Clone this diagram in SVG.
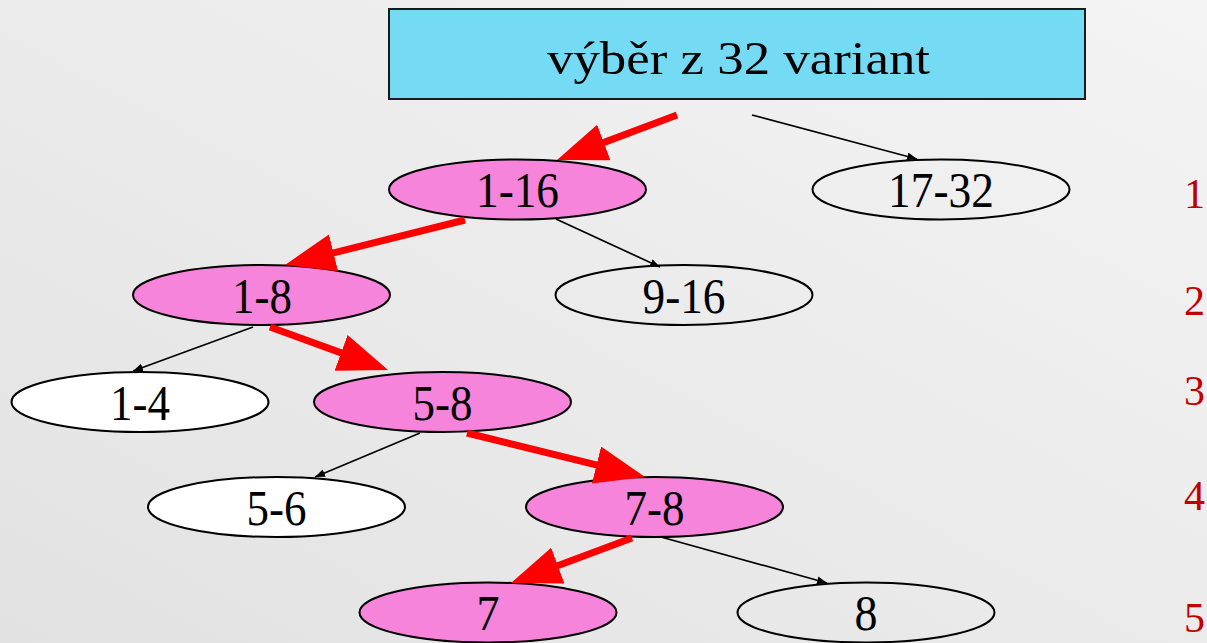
<svg xmlns="http://www.w3.org/2000/svg" width="1207" height="643" viewBox="0 0 1207 643">
<defs>
<linearGradient id="bg" x1="1" y1="0" x2="0" y2="1">
<stop offset="0" stop-color="#f4f4f4"/>
<stop offset="1" stop-color="#e2e2e2"/>
</linearGradient>
<marker id="ah" markerUnits="userSpaceOnUse" markerWidth="12" markerHeight="10" refX="10" refY="4" orient="auto">
<path d="M0,0 L10,4 L0,8 z" fill="#000"/>
</marker>
<marker id="rh" markerUnits="userSpaceOnUse" markerWidth="52" markerHeight="40" refX="6" refY="19" orient="auto">
<path d="M0,0 L50,19 L0,38 z" fill="#ff0000"/>
</marker>
</defs>
<style>
.ttl{font-family:"Liberation Serif","Times New Roman",serif;font-size:47px;fill:#000}
.lbl{font-family:"Liberation Serif","Times New Roman",serif;font-size:50px;fill:#000}
.num{font-family:"Liberation Serif","Times New Roman",serif;font-size:42px;fill:#c00000}
.ell{stroke:#000;stroke-width:2}
.sel{fill:#f584da}
.wht{fill:#ffffff}
.non{fill:none}
.thin{stroke:#000;stroke-width:1.7;fill:none;marker-end:url(#ah)}
.red{stroke:#ff0000;stroke-width:7;fill:none;marker-end:url(#rh)}
</style>
<rect x="0" y="0" width="1207" height="643" fill="url(#bg)"/>

<g id="root">
<rect x="389" y="9" width="696" height="90" fill="#75dbf5" stroke="#1a1a1a" stroke-width="2"/>
<text class="ttl" x="547" y="74" textLength="383" lengthAdjust="spacingAndGlyphs">výběr z 32 variant</text>
</g>

<g id="n1-16"><ellipse class="ell sel" cx="517.5" cy="189.5" rx="128.5" ry="30"/><text class="lbl" x="476" y="207" textLength="83" lengthAdjust="spacingAndGlyphs">1-16</text></g>
<g id="n17-32"><ellipse class="ell non" cx="941" cy="189.5" rx="128.5" ry="30"/><text class="lbl" x="888" y="207" textLength="106" lengthAdjust="spacingAndGlyphs">17-32</text></g>
<g id="n1-8"><ellipse class="ell sel" cx="261.5" cy="295" rx="128.5" ry="30"/><text class="lbl" x="232" y="312.5" textLength="60" lengthAdjust="spacingAndGlyphs">1-8</text></g>
<g id="n9-16"><ellipse class="ell non" cx="684" cy="295" rx="128.5" ry="30"/><text class="lbl" x="642.5" y="312.5" textLength="83" lengthAdjust="spacingAndGlyphs">9-16</text></g>
<g id="n1-4"><ellipse class="ell wht" cx="140" cy="402" rx="128.5" ry="30"/><text class="lbl" x="110" y="419.5" textLength="60" lengthAdjust="spacingAndGlyphs">1-4</text></g>
<g id="n5-8"><ellipse class="ell sel" cx="442.5" cy="402" rx="128.5" ry="30"/><text class="lbl" x="412.5" y="419.5" textLength="60" lengthAdjust="spacingAndGlyphs">5-8</text></g>
<g id="n5-6"><ellipse class="ell wht" cx="276.5" cy="507" rx="128.5" ry="30"/><text class="lbl" x="246.5" y="524.5" textLength="60" lengthAdjust="spacingAndGlyphs">5-6</text></g>
<g id="n7-8"><ellipse class="ell sel" cx="654.5" cy="507" rx="128.5" ry="30"/><text class="lbl" x="624.5" y="524.5" textLength="60" lengthAdjust="spacingAndGlyphs">7-8</text></g>
<g id="n7"><ellipse class="ell sel" cx="488" cy="612.5" rx="128.5" ry="30"/><text class="lbl" x="476.5" y="630" textLength="23" lengthAdjust="spacingAndGlyphs">7</text></g>
<g id="n8"><ellipse class="ell non" cx="866" cy="612.5" rx="128.5" ry="30"/><text class="lbl" x="854.5" y="630" textLength="23" lengthAdjust="spacingAndGlyphs">8</text></g>

<g id="levels">
<text class="num" x="1184" y="208">1</text>
<text class="num" x="1184" y="315">2</text>
<text class="num" x="1184" y="405">3</text>
<text class="num" x="1184" y="510">4</text>
<text class="num" x="1184" y="632">5</text>
</g>

<g id="connectors">
<line class="thin" x1="752" y1="115" x2="917" y2="159"/>
<line class="thin" x1="556" y1="219" x2="660" y2="267"/>
<line class="thin" x1="253" y1="327" x2="133" y2="371"/>
<line class="thin" x1="420" y1="433" x2="315" y2="477"/>
<line class="thin" x1="661" y1="537" x2="827" y2="583"/>
<line class="red" x1="677" y1="115" x2="598.2" y2="144.6"/>
<line class="red" x1="465" y1="220" x2="327.7" y2="254.3"/>
<line class="red" x1="270" y1="327" x2="346.7" y2="354.9"/>
<line class="red" x1="467" y1="433" x2="602.3" y2="466.4"/>
<line class="red" x1="632" y1="538" x2="552.2" y2="567.7"/>
</g>
</svg>
